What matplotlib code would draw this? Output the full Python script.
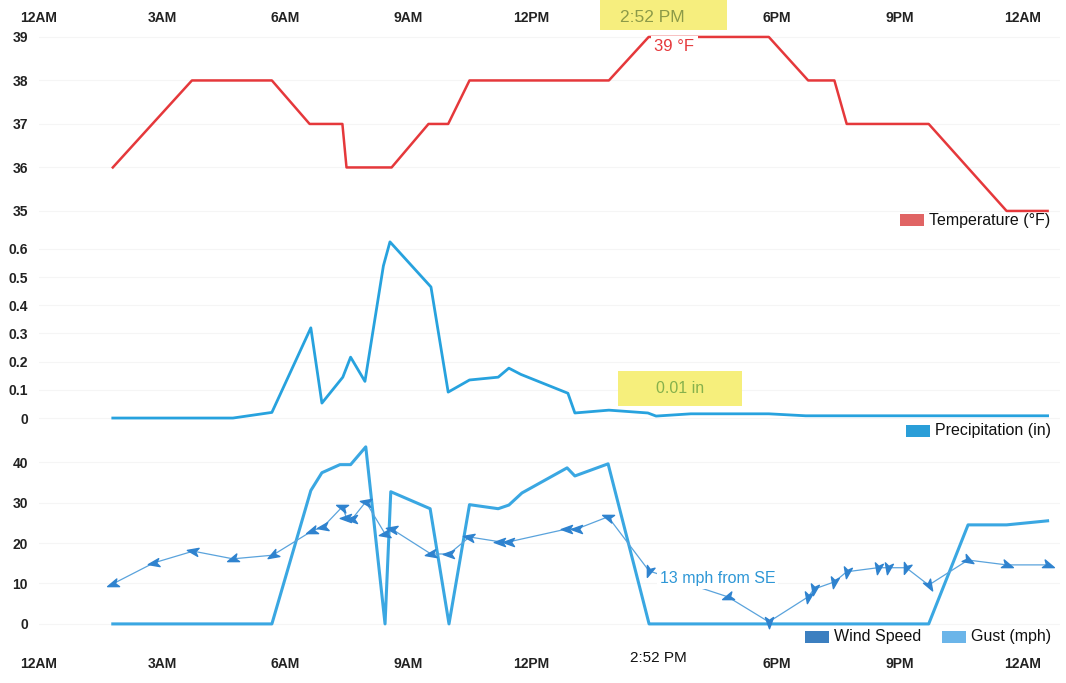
import numpy as np
import matplotlib
matplotlib.use("Agg")
from matplotlib import pyplot as plt
from matplotlib.markers import MarkerStyle
from matplotlib.path import Path
from matplotlib.patches import Rectangle
from matplotlib.transforms import Affine2D, blended_transform_factory

plt.rcParams['font.family'] = ['Liberation Sans', 'DejaVu Sans']

# hours since midnight
temp_t = [1.8, 3.73, 5.68, 6.6, 7.4, 7.5, 8.6, 9.5, 9.98, 10.5, 13.9, 14.87, 17.8, 18.76, 19.4, 19.7, 21.7, 23.6, 24.6]
temp_v = [36, 38, 38, 37, 37, 36, 36, 37, 37, 38, 38, 39, 39, 38, 38, 37, 37, 35, 35]

prec_t = [1.8, 4.73, 5.68, 6.63, 6.9, 7.41, 7.6, 7.95, 8.4, 8.56, 9.56, 9.98, 10.5, 11.2, 11.46, 11.75,
          12.9, 13.07, 13.9, 14.85, 15.05, 15.9, 17.8, 18.7, 24.6]
prec_v = [0, 0, 0.02, 0.32, 0.053, 0.145, 0.216, 0.13, 0.54, 0.625, 0.465, 0.092, 0.135, 0.145, 0.177, 0.155,
          0.088, 0.018, 0.028, 0.018, 0.007, 0.015, 0.015, 0.008, 0.008]

gust_t = [1.8, 5.68, 6.63, 6.9, 7.34, 7.6, 7.97, 8.44, 8.58, 9.54, 10.0, 10.5, 11.2, 11.46, 11.78,
          12.88, 13.07, 13.88, 14.88, 21.7, 22.66, 23.6, 24.6]
gust_v = [0, 0, 33, 37.4, 39.4, 39.4, 43.8, 0, 32.7, 28.5, 0, 29.5, 28.5, 29.4, 32.4,
          38.6, 36.6, 39.6, 0, 0, 24.5, 24.5, 25.5]

wind_t = [1.8, 2.8, 3.76, 4.73, 5.7, 6.66, 6.93, 7.4, 7.5, 7.64, 7.97, 8.44, 8.6, 9.56, 10.0, 10.5,
          11.25, 11.46, 12.88, 13.12, 13.88, 14.88, 16.8, 17.8, 18.76, 18.9, 19.4, 19.7, 20.46, 20.7,
          21.15, 21.7, 22.66, 23.6, 24.6]
wind_v = [9.9, 15.1, 18, 16.1, 17, 23, 24, 29, 26.2, 26, 30.2, 22.3, 23.5, 17.3, 17.3, 21.5,
          20.3, 20.3, 23.5, 23.5, 26.5, 13.1, 6.7, 0.5, 6.7, 8.6, 10.4, 12.9, 13.9, 13.9,
          13.9, 9.6, 15.8, 14.6, 14.6]
wind_dir = [200, 190, 170, 200, 210, 200, 190, 160, 180, 180, 170, 190, 170, 190, 180, 170,
            180, 180, 180, 180, 160, 250, 200, 270, 260, 260, 260, 260, 260, 260,
            250, 300, 330, 340, 340]

tick_hours = [0, 3, 6, 9, 12, 18, 21, 24]
tick_names = ['12AM', '3AM', '6AM', '9AM', '12PM', '6PM', '9PM', '12AM']

W, H = 1066, 683
fig = plt.figure(figsize=(W / 100, H / 100), dpi=100)


def box(top, bottom):
    return [39 / W, 1 - bottom / H, 24.9 * 41 / W, (bottom - top) / H]


def style(ax, ylim, yticks, ylabels):
    ax.set_xlim(0, 24.9)
    ax.set_ylim(*ylim)
    ax.set_yticks(yticks)
    ax.set_yticklabels(ylabels, fontsize=10, fontweight='bold', color='#222222')
    ax.set_xticks([])
    ax.tick_params(axis='y', length=0, pad=8)
    for s in ax.spines.values():
        s.set_visible(False)
    ax.grid(axis='y', color='#f5f5f5', lw=0.8)
    ax.set_axisbelow(True)


ax1 = fig.add_axes(box(32.6, 224))
ax2 = fig.add_axes(box(232, 426.5))
ax3 = fig.add_axes(box(442, 632))

style(ax1, (34.7, 39.1), [35, 36, 37, 38, 39], ['35', '36', '37', '38', '39'])
style(ax2, (-0.03, 0.66), [0, 0.1, 0.2, 0.3, 0.4, 0.5, 0.6], ['0', '0.1', '0.2', '0.3', '0.4', '0.5', '0.6'])
style(ax3, (-2, 45), [0, 10, 20, 30, 40], ['0', '10', '20', '30', '40'])

ax1.plot(temp_t, temp_v, color='#e5383b', lw=1.8, clip_on=False, zorder=2)
ax1.text(15.5, 38.78, '39 °F', color='#e5383b', fontsize=12, ha='center', va='center', zorder=5,
         bbox=dict(facecolor='white', edgecolor='none', pad=2.5))

ax2.plot(prec_t, prec_v, color='#27a2de', lw=2, clip_on=False)
ax2.add_patch(Rectangle((14.12, 0.043), 3.03, 0.124, facecolor='#f6ef7c', edgecolor='none', zorder=3))
ax2.text(15.63, 0.106, '0.01 in', color='#86b14c', fontsize=11.5, ha='center', va='center', zorder=4)

ax3.plot(gust_t, gust_v, color='#3aa7e2', lw=2.2, clip_on=False, zorder=2)
ax3.plot(wind_t, wind_v, color='#5aa3dc', lw=0.9, zorder=3)
arrow = Path([(1, 0), (-0.8, 0.65), (-0.35, 0), (-0.8, -0.65), (1, 0)],
             [Path.MOVETO, Path.LINETO, Path.LINETO, Path.LINETO, Path.CLOSEPOLY])
for t, v, a in zip(wind_t, wind_v, wind_dir):
    m = MarkerStyle(arrow, transform=Affine2D().rotate_deg(a))
    ax3.plot(t, v, marker=m, ms=9, color='#2f83cf', ls='none', zorder=4)
ax3.text(15.15, 11.2, '13 mph from SE', color='#2e97d6', fontsize=11.5, ha='left', va='center', zorder=5,
         bbox=dict(facecolor='white', edgecolor='none', pad=2))

# time labels above and below
for ax, yp in [(ax1, 1 - 18 / H), (ax3, 1 - 664 / H)]:
    tr = blended_transform_factory(ax.transData, fig.transFigure)
    for h, n in zip(tick_hours, tick_names):
        ax.text(h, yp, n, transform=tr, ha='center', va='center', fontsize=10,
                fontweight='bold', color='#222222')
tr3 = blended_transform_factory(ax3.transData, fig.transFigure)
ax3.text(15.1, 1 - 658 / H, '2:52 PM', transform=tr3, ha='center', va='center',
         fontsize=11, color='#111111')

fig.patches.append(Rectangle((600 / W, 1 - 30 / H), 127 / W, 30 / H, transform=fig.transFigure,
                             facecolor='#f6ee7e', edgecolor='none', zorder=0))
fig.text(652 / W, 1 - 17 / H, '2:52 PM', ha='center', va='center', fontsize=12.5, color='#8c9a48')

# legends
legend_items = [
    (900, 214, 'Temperature (°F)', '#e06464'),
    (906, 425, 'Precipitation (in)', '#2a9ed8'),
    (805, 631, 'Wind Speed', '#3c7fc0'),
    (942, 631, 'Gust (mph)', '#6bb5e9'),
]
for x0, y0, label, c in legend_items:
    fig.patches.append(Rectangle((x0 / W, 1 - (y0 + 12) / H), 24 / W, 12 / H, transform=fig.transFigure,
                                 facecolor=c, edgecolor='none'))
    fig.text((x0 + 29) / W, 1 - (y0 + 6) / H, label, ha='left', va='center', fontsize=11.5, color='#111111')

fig.savefig('out.png', dpi=100)
